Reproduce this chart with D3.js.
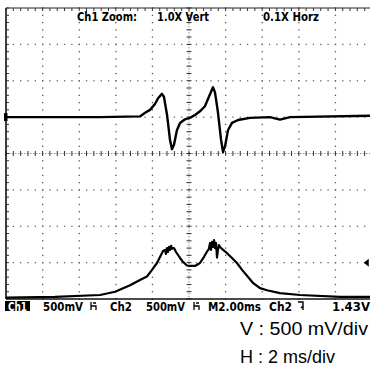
<!DOCTYPE html>
<html>
<head>
<meta charset="utf-8">
<script src="https://cdn.jsdelivr.net/npm/d3@7"></script>
<style>
  html, body { margin: 0; padding: 0; background: #fff; }
  svg { display: block; }
</style>
</head>
<body>
<svg id="scope" width="370" height="367"></svg>
<script>
// Ch1 trace: time (ms from screen centre) and voltage (V, screen centre = 0)
const ch1Time = [-10, -4.86, -2.68, -2.40, -2.13, -1.86, -1.69, -1.48, -1.37, -1.20, -1.04, -0.93,
  -0.82, -0.66, -0.49, -0.22, 0.05, 0.33, 0.60, 0.87, 1.09, 1.31, 1.42, 1.58, 1.75, 1.86,
  1.97, 2.13, 2.35, 2.68, 3.33, 4.43, 4.75, 4.97, 5.19, 5.52, 10];
const ch1Volt = [0.50, 0.50, 0.51, 0.56, 0.60, 0.68, 0.76, 0.82, 0.78, 0.53, 0.19, 0.06,
  0.12, 0.32, 0.42, 0.47, 0.49, 0.53, 0.58, 0.65, 0.78, 0.91, 0.84, 0.57, 0.19, 0.02,
  0.10, 0.32, 0.42, 0.46, 0.49, 0.50, 0.48, 0.465, 0.48, 0.50, 0.52];

// Ch2 trace
const ch2Time = [-10, -7.32, -4.86, -4.04, -3.22, -2.68, -2.30, -2.02, -1.75, -1.53, -1.42,
  -1.31, -1.26, -1.20, -1.15, -1.09, -1.04, -0.98, -0.93, -0.82, -0.71, -0.49, -0.33, -0.11,
  0.05, 0.33, 0.60, 0.82, 0.98, 1.09, 1.15, 1.20, 1.26, 1.31, 1.37, 1.42, 1.48, 1.53, 1.58,
  1.64, 1.69, 1.80, 2.08, 2.35, 2.62, 2.90, 3.17, 3.50, 3.88, 4.26, 4.97, 6.07, 8.25, 10];
const ch2Volt = [-1.98, -1.97, -1.945, -1.90, -1.81, -1.74, -1.69, -1.60, -1.505, -1.395, -1.34,
  -1.326, -1.38, -1.30, -1.354, -1.285, -1.326, -1.27, -1.31, -1.30, -1.354, -1.436, -1.49, -1.54,
  -1.546, -1.546, -1.505, -1.42, -1.35, -1.31, -1.23, -1.326, -1.216, -1.285, -1.19, -1.30, -1.23, -1.43, -1.326,
  -1.258, -1.285, -1.31, -1.37, -1.436, -1.505, -1.60, -1.68, -1.78, -1.85, -1.88, -1.92, -1.945, -1.97, -1.97];

const headerLabels = ["Ch1 Zoom:", "1.0X Vert", "0.1X Horz"];
const statusLabels = ["500mV", "Ch2", "500mV", "M2.00ms", "Ch2", "1.43V"];
const noteLabels = ["V : 500 mV/div", "H : 2 ms/div"];
const triggerLevel = -1.5; // V, marker on right edge

const svg = d3.select("#scope");

const x = d3.scaleLinear().domain([-10, 10]).range([6, 372]);
const y = d3.scaleLinear().domain([-2, 2]).range([299, 8]);

const divX = d3.range(-10, 10.01, 2);     // major divisions (2 ms)
const divY = d3.range(-2, 2.01, 0.5);     // major divisions (500 mV)
const subX = d3.range(-10, 10.01, 0.4);
const subY = d3.range(-2, 2.01, 0.1);

const grid = svg.append("g");

// dotted graticule: a dot every 1/5 division
divX.forEach(t => {
  if (t === -10 || t === 0) return;
  grid.selectAll(null).data(subY).enter().append("rect")
    .attr("x", x(t) - 0.6).attr("y", d => y(d) - 0.6)
    .attr("width", 1.3).attr("height", 1.3).attr("fill", "#555");
});
divY.forEach(v => {
  if (v === 0 || v === -2 || v === 2) return;
  grid.selectAll(null).data(subX).enter().append("rect")
    .attr("x", d => x(d) - 0.6).attr("y", y(v) - 0.6)
    .attr("width", 1.3).attr("height", 1.3).attr("fill", "#666");
});

// centre cross with minor ticks
grid.append("line").attr("x1", x(-10)).attr("x2", x(10)).attr("y1", y(0)).attr("y2", y(0))
  .attr("stroke", "#777").attr("stroke-width", 0.8).attr("stroke-dasharray", "1.5,1.5");
grid.append("line").attr("y1", y(2)).attr("y2", y(-2)).attr("x1", x(0)).attr("x2", x(0))
  .attr("stroke", "#777").attr("stroke-width", 0.8).attr("stroke-dasharray", "1.5,1.5");
grid.selectAll(null).data(subX).enter().append("line")
  .attr("x1", d => x(d)).attr("x2", d => x(d))
  .attr("y1", y(0) - 2.5).attr("y2", y(0) + 2.5)
  .attr("stroke", "#333").attr("stroke-width", 1);
grid.selectAll(null).data(subY).enter().append("line")
  .attr("y1", d => y(d)).attr("y2", d => y(d))
  .attr("x1", x(0) - 2.5).attr("x2", x(0) + 2.5)
  .attr("stroke", "#333").attr("stroke-width", 1);

// border with inward ticks
grid.append("line").attr("x1", x(-10)).attr("x2", x(10)).attr("y1", y(2)).attr("y2", y(2))
  .attr("stroke", "#222").attr("stroke-width", 1.2);
grid.append("line").attr("x1", x(-10)).attr("x2", x(-10)).attr("y1", y(2)).attr("y2", y(-2))
  .attr("stroke", "#111").attr("stroke-width", 1.6);
grid.append("line").attr("x1", x(-10)).attr("x2", x(10)).attr("y1", y(-2)).attr("y2", y(-2))
  .attr("stroke", "#111").attr("stroke-width", 1.4);
grid.selectAll(null).data(subX).enter().append("line")
  .attr("x1", d => x(d)).attr("x2", d => x(d))
  .attr("y1", y(2)).attr("y2", y(2) + 3)
  .attr("stroke", "#333").attr("stroke-width", 1);
grid.selectAll(null).data(subY).enter().append("line")
  .attr("y1", d => y(d)).attr("y2", d => y(d))
  .attr("x1", x(-10)).attr("x2", x(-10) + 3)
  .attr("stroke", "#333").attr("stroke-width", 1);

// ground marker for ch1 on left edge
grid.append("rect").attr("x", x(-10) - 2).attr("y", y(0.5) - 4)
  .attr("width", 3.5).attr("height", 8).attr("fill", "#000");

// trigger level marker on right
const ty = y(triggerLevel);
grid.append("path")
  .attr("d", `M${x(9.55)},${ty} l5,-4 l0,8 Z`)
  .attr("fill", "#000");

// header text
const headerX = [77, 157, 263];
const headerW = [60, 52, 56];
svg.selectAll(null).data(headerLabels).enter().append("text")
  .attr("x", (d, i) => headerX[i]).attr("y", 21)
  .attr("textLength", (d, i) => headerW[i]).attr("lengthAdjust", "spacingAndGlyphs")
  .attr("font-family", "DejaVu Sans, sans-serif").attr("font-weight", "bold")
  .attr("font-size", 11.5).attr("fill", "#000")
  .text(d => d);

// traces
const line = d3.line().x(d => x(d[0])).y(d => y(d[1]));
svg.append("path").datum(d3.zip(ch1Time, ch1Volt))
  .attr("d", line).attr("fill", "none").attr("stroke", "#000")
  .attr("stroke-width", 2.4).attr("stroke-linejoin", "round");
svg.append("path").datum(d3.zip(ch2Time, ch2Volt))
  .attr("d", line).attr("fill", "none").attr("stroke", "#000")
  .attr("stroke-width", 2.2).attr("stroke-linejoin", "round");

// status line
const status = svg.append("g").attr("font-family", "DejaVu Sans, sans-serif")
  .attr("font-weight", "bold").attr("font-size", 11.5);
status.append("rect").attr("x", 5).attr("y", 301).attr("width", 25).attr("height", 10).attr("fill", "#000");
status.append("text").attr("x", 8).attr("y", 310.5).attr("fill", "#fff")
  .attr("textLength", 19).attr("lengthAdjust", "spacingAndGlyphs").text("Ch1");
const statusX = [43, 110, 146, 208, 269, 332];
const statusW = [40, 22, 39, 53, 23, 38];
status.selectAll(null).data(statusLabels).enter().append("text")
  .attr("x", (d, i) => statusX[i]).attr("y", 310.5)
  .attr("textLength", (d, i) => statusW[i]).attr("lengthAdjust", "spacingAndGlyphs")
  .attr("fill", "#000").text(d => d);
// coupling glyphs
[91, 194].forEach(gx => {
  status.append("path")
    .attr("d", `M${gx},302 l0,8 M${gx},306 l5,0 l0,4 M${gx + 2},303 l3,0`)
    .attr("fill", "none").attr("stroke", "#000").attr("stroke-width", 1.3);
});
// falling edge glyph
status.append("path")
  .attr("d", "M298,302 l5,0 l0,8 M303,306 l-2,2")
  .attr("fill", "none").attr("stroke", "#000").attr("stroke-width", 1.4);

// scale notes
const noteW = [128, 95];
svg.selectAll(null).data(noteLabels).enter().append("text")
  .attr("x", 240).attr("y", (d, i) => 335 + i * 27.5)
  .attr("textLength", (d, i) => noteW[i]).attr("lengthAdjust", "spacingAndGlyphs")
  .attr("font-family", "Liberation Sans, Arial, sans-serif")
  .attr("font-size", 19).attr("fill", "#000")
  .text(d => d);
</script>
</body>
</html>
